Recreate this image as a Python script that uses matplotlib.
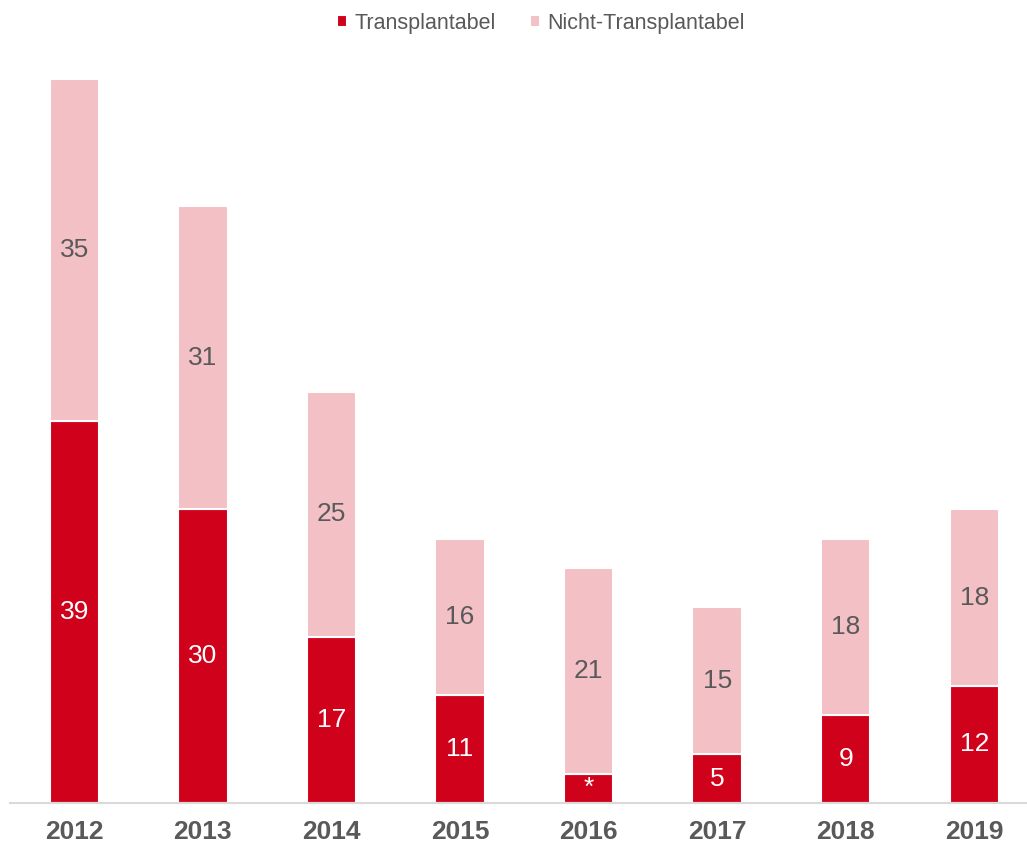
import matplotlib.pyplot as plt

plt.rcParams['font.family'] = ['Liberation Sans', 'DejaVu Sans']

# Data
years = ['2012', '2013', '2014', '2015', '2016', '2017', '2018', '2019']
transplantabel = [39, 30, 17, 11, 3, 5, 9, 12]
nicht_transplantabel = [35, 31, 25, 16, 21, 15, 18, 18]
trans_labels = ['39', '30', '17', '11', '*', '5', '9', '12']

dark_red = '#D0021B'
pink = '#F2C0C5'
grey_text = '#595959'

fig = plt.figure(figsize=(10.27, 8.47), dpi=100)
ax = fig.add_axes([10 / 1027, 44 / 847, 1017 / 1027, 743.6 / 847])

x = range(len(years))
b1 = ax.bar(x, transplantabel, width=0.385, color=dark_red, edgecolor='white',
            linewidth=1.5, label='Transplantabel')
b2 = ax.bar(x, nicht_transplantabel, width=0.385, bottom=transplantabel, color=pink,
            edgecolor='white', linewidth=1.5, label='Nicht-Transplantabel')

ax.bar_label(b1, labels=trans_labels, label_type='center', color='white', fontsize=19)
ax.bar_label(b2, label_type='center', color=grey_text, fontsize=19)

ax.set_xlim(-0.5, 7.41)
ax.set_ylim(0, 76)
ax.set_xticks(list(x))
ax.set_xticklabels(years, fontsize=19, fontweight='bold', color=grey_text)
ax.tick_params(axis='x', length=0, pad=12)
ax.set_yticks([])
for side in ['top', 'right', 'left']:
    ax.spines[side].set_visible(False)
ax.spines['bottom'].set_color('#D9D9D9')
ax.spines['bottom'].set_linewidth(1.5)

fig.legend(loc='upper center', bbox_to_anchor=(0.527, 1.008), ncol=2, frameon=False,
           fontsize=15.5, handlelength=0.45, handleheight=0.45, columnspacing=1.6,
           handletextpad=0.35, labelcolor=grey_text)

fig.savefig('out.png', dpi=100)
